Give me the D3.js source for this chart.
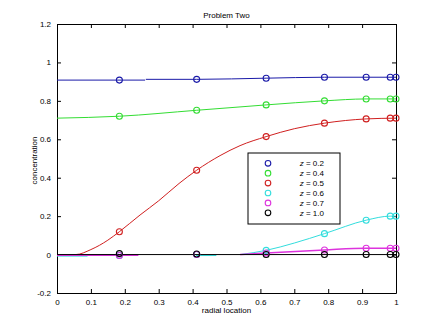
<!DOCTYPE html>
<html><head><meta charset="utf-8">
<script src="https://cdn.jsdelivr.net/npm/d3@7"></script>
<style>body{margin:0;background:#fff}svg{display:block}text{font-family:"Liberation Sans",Arial,sans-serif}</style>
</head><body><svg id="c" width="439" height="330"></svg>
<script>
// ---- data ----
const title = "Problem Two";
const xLabel = "radial location";
const yLabel = "concentration";
const xTicks = [0,0.1,0.2,0.3,0.4,0.5,0.6,0.7,0.8,0.9,1];
const yTicks = [-0.2,0,0.2,0.4,0.6,0.8,1,1.2];
const markerX = [0.184,0.412,0.617,0.789,0.912,0.983,1.0];
const labels = ["z = 0.2","z = 0.4","z = 0.5","z = 0.6","z = 0.7","z = 1.0"];
const colors = ["#1a1aa8","#33dd33","#d02020","#33dddd","#dd33dd","#000000"];
// marker values per series
const mBlue    = [0.908,0.912,0.918,0.923,0.923,0.923,0.923];
const mGreen   = [0.720,0.751,0.779,0.800,0.810,0.810,0.810];
const mRed     = [0.119,0.439,0.614,0.684,0.706,0.710,0.710];
const mCyan    = [-0.005,0.0,0.022,0.109,0.179,0.200,0.200];
const mMagenta = [-0.005,0.0,0.008,0.024,0.033,0.033,0.033];
const mBlack   = [0.005,0.003,0.0,0.0,0.0,0.0,0.0];
// line traces (x, y); null = gap
const lBlue    = [[0,0.908],[0.26,0.908],null,[0.262,0.912],[0.412,0.912],[0.617,0.918],[0.789,0.923],[1,0.923]];
const lGreen   = [[0,0.710],[0.184,0.720],[0.412,0.751],[0.617,0.779],[0.789,0.800],[0.912,0.810],[1,0.810]];
const lRed     = [[0,0],[0.055,0],[0.1,0.026],[0.15,0.075],[0.184,0.119],[0.245,0.206],[0.3,0.28],[0.36,0.37],[0.412,0.439],[0.481,0.515],[0.54,0.567],[0.617,0.614],[0.7,0.655],[0.789,0.684],[0.912,0.706],[1,0.710]];
const lCyan    = [[0,-0.008],[0.09,-0.008],null,[0.41,-0.005],[0.47,-0.005],null,[0.54,0],[0.617,0.022],[0.7,0.06],[0.789,0.109],[0.912,0.179],[0.983,0.200],[1,0.200]];
const lMagenta = [[0,-0.003],[0.24,-0.003],null,[0.54,0],[0.617,0.008],[0.789,0.024],[0.912,0.033],[1,0.033]];
const lBlack   = [[0,0],[1,0]];

const lines = [lBlue,lGreen,lRed,lCyan,lMagenta,lBlack];
const marks = [mBlue,mGreen,mRed,mCyan,mMagenta,mBlack];

// ---- drawing ----
const svg = d3.select("#c");
const L=57, R=396, T=24, B=293;
const x = d3.scaleLinear().domain([0,1]).range([L,R]);
const y = d3.scaleLinear().domain([-0.2,1.2]).range([B,T]);
const fmt = d => String(d);

const tl=4;
const gx = svg.append("g").attr("transform",`translate(0,${B})`)
  .call(d3.axisBottom(x).tickValues(xTicks).tickSizeInner(-tl).tickSizeOuter(0).tickPadding(6).tickFormat(fmt));
const gxt = svg.append("g").attr("transform",`translate(0,${T})`)
  .call(d3.axisTop(x).tickValues(xTicks).tickSizeInner(-tl).tickSizeOuter(0).tickFormat(""));
const gy = svg.append("g").attr("transform",`translate(${L},0)`)
  .call(d3.axisLeft(y).tickValues(yTicks).tickSizeInner(-tl).tickSizeOuter(0).tickPadding(6).tickFormat(fmt));
const gyr = svg.append("g").attr("transform",`translate(${R},0)`)
  .call(d3.axisRight(y).tickValues(yTicks).tickSizeInner(-tl).tickSizeOuter(0).tickFormat(""));
[gx,gxt,gy,gyr].forEach(g=>{
  g.selectAll("path.domain").attr("stroke","#000").attr("stroke-width",1);
  g.selectAll("line").attr("stroke","#000");
  g.selectAll("text").attr("font-size",8).attr("fill","#000");
});

const lineGen = d3.line().defined(d=>d!==null).x(d=>x(d[0])).y(d=>y(d[1])).curve(d3.curveMonotoneX);
lines.forEach((ln,i)=>{
  svg.append("path").attr("d",lineGen(ln)).attr("fill","none")
    .attr("stroke",colors[i]).attr("stroke-width",i===4?1.6:1);
});
marks.forEach((m,i)=>{
  svg.append("g").selectAll("circle").data(m).join("circle")
    .attr("cx",(d,j)=>x(markerX[j])).attr("cy",d=>y(d)).attr("r",3)
    .attr("fill","none").attr("stroke",colors[i]).attr("stroke-width",1.1);
});

// title & labels
svg.append("text").attr("x",(L+R)/2).attr("y",18).attr("text-anchor","middle").attr("font-size",8).text(title);
svg.append("text").attr("x",(L+R)/2).attr("y",313).attr("text-anchor","middle").attr("font-size",8).text(xLabel);
svg.append("text").attr("transform",`translate(37,${(T+B)/2+2}) rotate(-90)`).attr("text-anchor","middle").attr("font-size",8).text(yLabel);

// legend
const lg = svg.append("g");
lg.append("rect").attr("x",248).attr("y",153).attr("width",92).attr("height",71)
  .attr("fill","#fff").attr("stroke","#000").attr("stroke-width",1);
labels.forEach((t,i)=>{
  const yy = 163.3 + i*9.9;
  lg.append("circle").attr("cx",268).attr("cy",yy).attr("r",2.8).attr("fill","none")
    .attr("stroke",colors[i]).attr("stroke-width",1.1);
  const tx = lg.append("text").attr("x",324).attr("y",yy+3).attr("text-anchor","end").attr("font-size",8);
  tx.append("tspan").attr("font-style","italic").text(t.slice(0,1));
  tx.append("tspan").text(t.slice(1));
});
</script></body></html>
